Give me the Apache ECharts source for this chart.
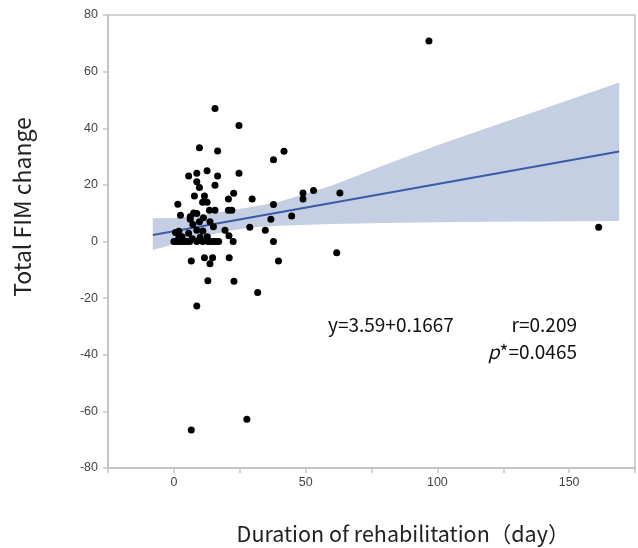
<!DOCTYPE html>
<html>
<head>
<meta charset="utf-8">
<script src="https://cdn.jsdelivr.net/npm/echarts@6/dist/echarts.min.js"></script>
<style>html,body{margin:0;padding:0;background:#fff}#c{width:638px;height:548px}</style>
</head>
<body>
<div id="c"></div>
<script>
// Scatter points: [duration (day), total FIM change]
const pointsX = [96.8,161.2,6.6,27.7,15.6,24.7,9.7,16.6,41.8,37.8,
  5.6,8.7,12.6,16.6,24.7,8.7,9.7,15.6,7.8,11.6,22.7,29.7,10.9,12.6,20.7,
  1.5,13.5,15.6,20.7,22.0,2.5,7.5,8.7,6.2,49,49,53,63,37.8,36.8,44.7,
  28.8,34.7,20.9,37.8,21,39.7,61.8,22.8,31.8,8.7,12.9,6.6,11.6,14.7,13.7,
  6.2,7.2,9.7,11.2,13.7,15,19.4,8.7,11,0.6,5.6,12.7,1.9,1.9,3.1,7,10,
  0,1,2,3,4,5,6,8.7,11,13,14,15,16,17,22.5];
const pointsY = [70.8,5.0,-66.6,-62.8,47.0,41.0,33.1,32.0,31.9,28.9,
  23.1,24.1,25.0,23.1,24.1,21.1,19.1,19.9,16.1,16.1,17.0,15.0,13.9,13.9,15.0,
  13.2,11.0,11.0,11.0,11.0,9.3,10.1,9.9,8.7,17.1,15,18,17.1,13.1,7.9,9.0,
  5.0,4.0,2.0,0,-5.7,-6.9,-4.0,-14,-18,-22.8,-13.9,-6.9,-5.7,-5.7,-7.9,
  7.9,6.0,7.0,8.4,7.0,5.2,4.0,4.0,3.7,3.2,2.9,1.7,3.6,1.5,1.7,1,1.5,
  0,0,0,0,0,0,0,0,0,0,0,0,0,0,0];
// Regression line end points
const lineX = [-8, 169];
const lineY = [2.26, 31.76];
// Confidence band
const bandX = [-8, 0, 10, 20, 30, 40, 60, 80, 100, 120, 140, 169];
const bandUpper = [8.2, 8.3, 9.2, 10.8, 12.3, 14.0, 19.8, 27.0, 34.0, 40.4, 46.8, 56.2];
const bandLower = [-3.0, -1.0, 1.5, 3.6, 5.0, 5.6, 6.2, 6.5, 6.8, 7.0, 7.1, 7.2];
// Axis ticks
const xTickLabels = [0, 50, 100, 150];
const yTickLabels = [-80, -60, -40, -20, 0, 20, 40, 60, 80];

const chart = echarts.init(document.getElementById('c'), null, {renderer: 'canvas'});
const axisGray = '#c3c3c3';
const labelColor = '#444';
const textFont = '"Noto Sans CJK JP", "Noto Sans", sans-serif';
const option = {
  animation: false,
  grid: {left: 108, top: 15, width: 534, height: 453, show: true, borderColor: axisGray, borderWidth: 1.5, backgroundColor: 'transparent'},
  xAxis: {
    type: 'value', min: -25, max: 175, interval: 25,
    splitLine: {show: false},
    axisLine: {show: true, onZero: false, lineStyle: {color: axisGray, width: 2}},
    axisTick: {show: true, length: 5, lineStyle: {color: axisGray, width: 1.5}},
    axisLabel: {margin: 8, color: labelColor, fontSize: 12.5, fontFamily: 'Liberation Sans, Arial, sans-serif',
      formatter: v => xTickLabels.includes(v) ? String(v) : ''}
  },
  yAxis: {
    type: 'value', min: -80, max: 80, interval: 20,
    splitLine: {show: false},
    axisLine: {show: true, onZero: false, lineStyle: {color: axisGray, width: 2}},
    axisTick: {show: true, length: 5, lineStyle: {color: axisGray, width: 1.5}},
    axisLabel: {margin: 10, color: labelColor, fontSize: 12.5, fontFamily: 'Liberation Sans, Arial, sans-serif',
      formatter: v => yTickLabels.includes(v) ? String(v) : ''}
  },
  series: [
    {
      type: 'custom', z: 1, silent: true,
      data: [[bandX[0], bandUpper[0]]],
      renderItem: function (params, api) {
        const pts = [];
        for (let i = 0; i < bandX.length; i++) pts.push(api.coord([bandX[i], bandUpper[i]]));
        for (let i = bandX.length - 1; i >= 0; i--) pts.push(api.coord([bandX[i], bandLower[i]]));
        return {type: 'polygon', shape: {points: pts}, style: {fill: '#c5cfe4'}};
      }
    },
    {
      type: 'line', z: 2, symbol: 'none', silent: true,
      data: lineX.map((x, i) => [x, lineY[i]]),
      lineStyle: {color: '#3a5ba5', width: 2}
    },
    {
      type: 'scatter', z: 3, symbol: 'circle', symbolSize: 7,
      itemStyle: {color: '#000', opacity: 1},
      data: pointsX.map((x, i) => [x, pointsY[i]])
    }
  ],
  graphic: [
    {type: 'text', x: 328, y: 325, style: {text: 'y=3.59+0.1667', font: '19px ' + textFont, fill: '#111', align: 'left', verticalAlign: 'middle'}},
    {type: 'text', x: 577, y: 325, style: {text: 'r=0.209', font: '19px ' + textFont, fill: '#111', align: 'right', verticalAlign: 'middle'}},
    {type: 'text', x: 577, y: 352, style: {text: '{i|p}{n|*=0.0465}', align: 'right', verticalAlign: 'middle', rich: {
      i: {font: 'italic 19px ' + textFont, fill: '#111'},
      n: {font: '19px ' + textFont, fill: '#111'}}}},
    {type: 'text', x: 22, y: 207, rotation: Math.PI / 2, style: {text: 'Total FIM change', font: '23px ' + textFont, fill: '#222', align: 'center', verticalAlign: 'middle'}},
    {type: 'text', x: 403, y: 534, style: {text: 'Duration of rehabilitation（day）', font: '21.5px ' + textFont, fill: '#222', align: 'center', verticalAlign: 'middle'}}
  ]
};
chart.setOption(option);
</script>
</body>
</html>
